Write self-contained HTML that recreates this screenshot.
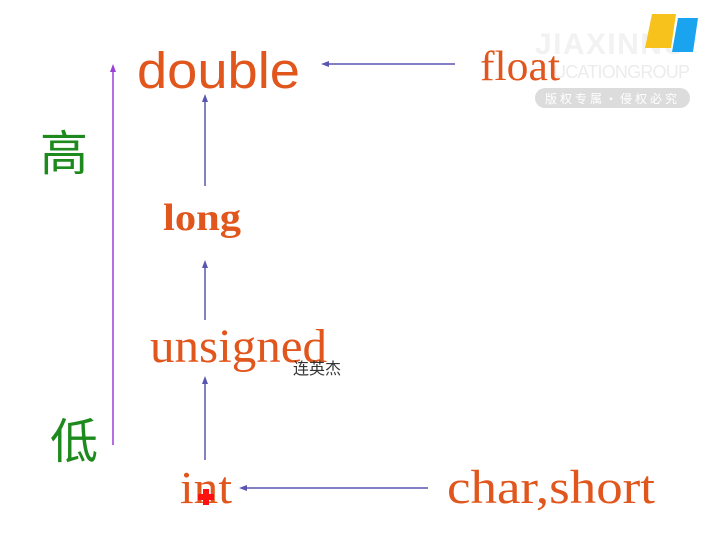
<!DOCTYPE html>
<html><head><meta charset="utf-8"><style>
html,body{margin:0;padding:0;background:#fff;}
svg{display:block;}
</style></head><body>
<svg width="706" height="546" viewBox="0 0 706 546" xmlns="http://www.w3.org/2000/svg">
<defs>
<marker id="a" markerWidth="8" markerHeight="8" refX="4" refY="4" orient="auto" markerUnits="userSpaceOnUse">
<path d="M0,1 L8,4 L0,7 z" fill="#5a55b0"/></marker>
<marker id="p" markerWidth="8" markerHeight="8" refX="4" refY="4" orient="auto" markerUnits="userSpaceOnUse">
<path d="M0,1 L8,4 L0,7 z" fill="#9b3fd8"/></marker>
</defs>
<text x="535" y="54" font-family="Liberation Sans, sans-serif" font-size="30" font-weight="bold" fill="#f2f2f2" textLength="150">JIAXINNU</text>
<text x="553" y="78" font-family="Liberation Sans, sans-serif" font-size="18" fill="#ececec" textLength="137">UCATIONGROUP</text>
<rect x="535" y="88" width="155" height="20" rx="10" fill="#dcdcdc"/>
<text x="545" y="103" font-family="Noto Sans CJK SC, sans-serif" font-size="12" fill="#fff" letter-spacing="3">版权专属·侵权必究</text>
<path d="M652,14 L676,14 L671,48 L645,48 Z" fill="#f7c21c"/>
<path d="M678,18 L698,18 L693,52 L672,52 Z" fill="#1aa4ef"/>
<line x1="113" y1="445" x2="113" y2="68" stroke="#9b3fd8" stroke-width="1.5" marker-end="url(#p)"/>
<line x1="205" y1="186" x2="205" y2="98" stroke="#5a55b0" stroke-width="1.5" marker-end="url(#a)"/>
<line x1="205" y1="320" x2="205" y2="264" stroke="#5a55b0" stroke-width="1.5" marker-end="url(#a)"/>
<line x1="205" y1="460" x2="205" y2="380" stroke="#5a55b0" stroke-width="1.5" marker-end="url(#a)"/>
<line x1="455" y1="64" x2="325" y2="64" stroke="#5a55b0" stroke-width="1.5" marker-end="url(#a)"/>
<line x1="428" y1="488" x2="243" y2="488" stroke="#5a55b0" stroke-width="1.5" marker-end="url(#a)"/>
<g fill="#e0561c">
<text x="137" y="88" font-family="Liberation Sans, sans-serif" font-size="51" textLength="163" lengthAdjust="spacingAndGlyphs">double</text>
<text x="480" y="80" font-family="Liberation Serif, serif" font-size="42" textLength="80" lengthAdjust="spacingAndGlyphs">float</text>
<text x="163" y="230" font-family="Liberation Serif, serif" font-size="38" font-weight="bold" textLength="78" lengthAdjust="spacingAndGlyphs">long</text>
<text x="150" y="362" font-family="Liberation Serif, serif" font-size="48" textLength="177" lengthAdjust="spacingAndGlyphs">unsigned</text>
<text x="180" y="503" font-family="Liberation Serif, serif" font-size="46" textLength="52" lengthAdjust="spacingAndGlyphs">int</text>
<text x="447" y="503" font-family="Liberation Serif, serif" font-size="48" textLength="208" lengthAdjust="spacingAndGlyphs">char,short</text>
</g>
<path d="M203,489 h6 v5 h5 v6 h-5 v5 h-6 v-5 h-5 v-6 h5 z" fill="#ff1010"/>
<text x="40" y="170" font-family="Noto Sans CJK SC, sans-serif" font-size="48" fill="#1e8a1e">高</text>
<text x="50" y="458" font-family="Noto Sans CJK SC, sans-serif" font-size="48" fill="#1e8a1e">低</text>
<text x="293" y="374" font-family="Noto Sans CJK SC, sans-serif" font-size="16" fill="#333">连英杰</text>
</svg>
</body></html>
